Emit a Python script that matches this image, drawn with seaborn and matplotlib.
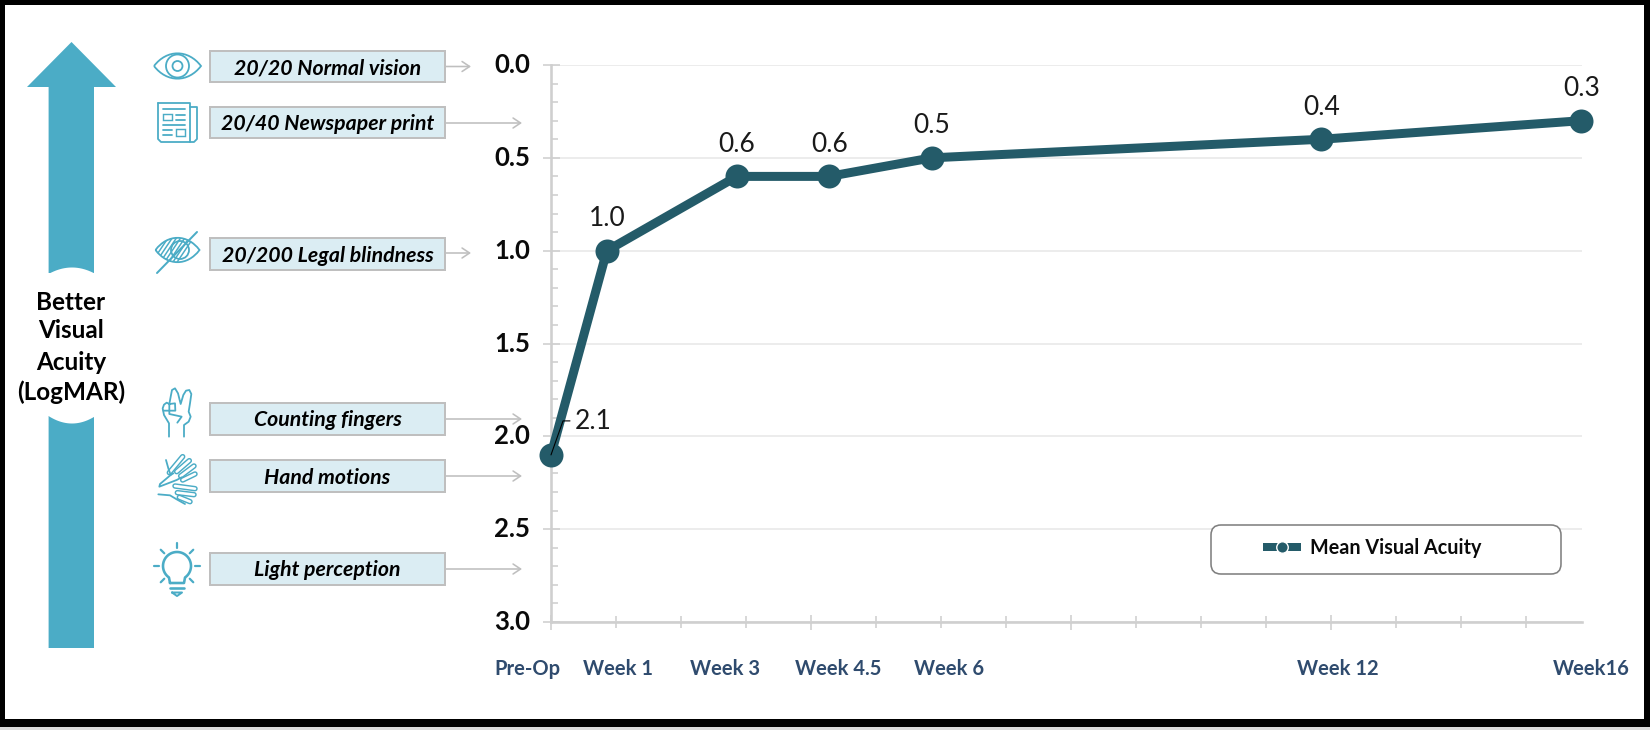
import numpy as np
import matplotlib
matplotlib.use("Agg")
import matplotlib.pyplot as plt
import pandas as pd
import seaborn as sns
from matplotlib.lines import Line2D
from matplotlib.patches import Rectangle, Circle, FancyBboxPatch, PathPatch, Polygon
from matplotlib.path import Path

# ---------- data ----------
week_position = [0, 0.86, 2.86, 4.28, 5.86, 11.85, 15.85]
logmar = [2.1, 1.0, 0.6, 0.6, 0.5, 0.4, 0.3]
value_labels = ["2.1", "1.0", "0.6", "0.6", "0.5", "0.4", "0.3"]
x_names = ["Pre-Op", "Week 1", "Week 3", "Week 4.5", "Week 6", "Week 12", "Week16"]
series_name = "Mean Visual Acuity"
y_major = [0.0, 0.5, 1.0, 1.5, 2.0, 2.5, 3.0]
vision_names = ["20/20 Normal vision", "20/40 Newspaper print", "20/200 Legal blindness",
                "Counting fingers", "Hand motions", "Light perception"]
side_title = ["Better", "Visual", "Acuity", "(LogMAR)"]

# ---------- style ----------
sns.set_theme(style="white")
plt.rcParams["font.family"] = ["Lato", "DejaVu Sans"]
W, H = 1650, 730
TEAL = "#245B69"
BLUE = "#4BACC6"
GREY = "#CFCFCF"
pt = 0.72  # points per pixel at 100 dpi

fig = plt.figure(figsize=(W / 100, H / 100), dpi=100, facecolor="black")

# full-figure canvas in pixel coordinates (y downward)
bg = fig.add_axes([0, 0, 1, 1], zorder=0)
bg.set_xlim(0, W)
bg.set_ylim(H, 0)
bg.axis("off")
bg.add_patch(Rectangle((5, 5), 1639, 714, fc="white", ec="none"))
bg.add_patch(Rectangle((0, 727), W, 3, fc="#DADADA", ec="none"))

# ---------- main chart ----------
L, R, T, B = 551, 1582, 65, 622
ax = fig.add_axes([L / W, 1 - B / H, (R - L) / W, (B - T) / H], zorder=1)
ax.patch.set_alpha(0)
df = pd.DataFrame({"week": week_position, "logmar": logmar})

ax.set_xlim(0, (R - L) / 65)
ax.set_ylim(3, 0)
ax.set_yticks(y_major)
ax.set_yticks(np.arange(0, 3.01, 0.1), minor=True)
ax.set_xticks(np.arange(0, 16, 4))
ax.set_xticks(np.arange(0, 16, 1), minor=True)
ax.set_xticklabels([])
ax.grid(axis="y", which="major", color="#E6E6E6", lw=1.5 * pt, zorder=0)
ax.set_axisbelow(True)
for s in ["top", "right"]:
    ax.spines[s].set_visible(False)
for s in ["left", "bottom"]:
    ax.spines[s].set_color(GREY)
    ax.spines[s].set_linewidth(2.6 * pt)
ax.tick_params(axis="y", which="major", direction="inout", length=17 * pt, width=1.6 * pt,
               color=GREY, pad=9, labelsize=18.5, labelcolor="#0A0A0A", left=True)
ax.tick_params(axis="y", which="minor", direction="in", length=6.5 * pt, width=1.6 * pt,
               color=GREY, left=True)
ax.tick_params(axis="x", which="major", direction="inout", length=15 * pt, width=1.6 * pt,
               color=GREY, bottom=True)
ax.tick_params(axis="x", which="minor", direction="inout", length=12 * pt, width=1.6 * pt,
               color=GREY, bottom=True)
ax.set_yticklabels([f"{v:.1f}" for v in y_major], fontweight="bold")
for lab in ax.get_yticklabels():
    lab.set_y(lab.get_position()[1])
    lab.set_verticalalignment("center")

sns.lineplot(data=df, x="week", y="logmar", ax=ax, color=TEAL, lw=9 * pt, marker="o",
             markersize=24 * pt, markeredgewidth=0, sort=False, legend=False,
             clip_on=False, zorder=3, solid_joinstyle="round")
ax.set_xlabel("")
ax.set_ylabel("")

# value labels
for i, (x, y, t) in enumerate(zip(week_position, logmar, value_labels)):
    if i == 0:
        ax.annotate(t, (x, y), xytext=(42 * pt, 33 * pt), textcoords="offset points",
                    ha="center", va="center", fontsize=19, color="#1A1A1A", zorder=5,
                    annotation_clip=False)
        ax.add_line(Line2D([x, x + 12 / 65, x + 19 / 65], [y, y - 34 / 185.67, y - 34 / 185.67],
                           color="black", lw=1.1 * pt, zorder=5, clip_on=False))
    else:
        ax.annotate(t, (x, y), xytext=(0, 32 * pt), textcoords="offset points",
                    ha="center", va="center", fontsize=19, color="#1A1A1A", zorder=5,
                    annotation_clip=False)

# x category labels
x_label_px = [527, 618, 725, 838, 949, 1338, 1591]
for px, t in zip(x_label_px, x_names):
    bg.text(px, 669, t, ha="center", va="center", fontsize=14.5, fontweight="bold", color="#2F4B6E")

# ---------- legend ----------
ax.add_patch(FancyBboxPatch((1217, 531), 338, 37, boxstyle="round,pad=6,rounding_size=10",
                            transform=bg.transData, fc="white", ec="#808080", lw=1.6 * pt,
                            clip_on=False, zorder=4))
handle = Line2D([], [], color=TEAL, lw=8 * pt, marker="o", markersize=11.5 * pt,
                markerfacecolor=TEAL, markeredgecolor="white", markeredgewidth=1.4 * pt,
                solid_capstyle="butt")
leg = ax.legend([handle], [series_name], loc="center left", frameon=False,
                bbox_to_anchor=(1263, 548), bbox_transform=bg.transData,
                borderaxespad=0, borderpad=0, handlelength=38 * pt / 14.2, handletextpad=0.45,
                prop={"size": 14.2, "weight": "bold"})
leg.set_zorder(6)
for t in leg.get_texts():
    t.set_color("#0A0A0A")

# ---------- big arrow ----------
bg.add_patch(Polygon([(71.5, 42), (116, 87), (94, 87), (94, 648), (48.6, 648), (48.6, 87), (27, 87)],
                     fc=BLUE, ec="none"))
bg.add_patch(Rectangle((48, 273), 47, 143, fc="white", ec="none"))
t_ = np.linspace(48, 95, 30)
bg.fill_between(t_, 273.5, 267 + 6.5 * ((t_ - 71.5) / 23.5) ** 2, color="white", lw=0, zorder=2)
bg.fill_between(t_, 415.5, 423 - 7.5 * ((t_ - 71.5) / 23.5) ** 2, color="white", lw=0, zorder=2)
for y, t in zip([303, 331, 362, 392], side_title):
    bg.text(71, y, t, ha="center", va="center", fontsize=17.5, fontweight="bold", color="black", zorder=3)

# ---------- vision boxes and arrows ----------
box_tops = [51, 107, 238, 403, 460, 553]
box_bottoms = [82, 138, 270, 435, 492, 585]
arrow_y = [66.5, 123, 253, 419, 476, 569]
arrow_end = [471, 522, 471, 522, 522, 522]
for top, bot, ay, ae, name in zip(box_tops, box_bottoms, arrow_y, arrow_end, vision_names):
    bg.add_patch(Rectangle((210, top), 235, bot - top, fc="#DBEDF3", ec="#BFBFBF", lw=2 * pt))
    bg.text(327.5, (top + bot) / 2 + 1.5, name, ha="center", va="center", fontsize=15.3,
            fontweight="bold", fontstyle="italic", color="black")
    bg.annotate("", xy=(ae, ay), xytext=(445, ay),
                arrowprops=dict(arrowstyle="->,head_length=0.45,head_width=0.3", color="#BFBFBF",
                                lw=1.6 * pt, shrinkA=0, shrinkB=0))

# ---------- icons ----------
ilw = 1.8 * pt


def line(xs, ys, lw=ilw, color=BLUE, z=3):
    bg.plot(xs, ys, color=color, lw=lw, solid_capstyle="round", solid_joinstyle="round", zorder=z)


def almond(cx, cy, hw, hh):
    c = 1.25
    return Path([(cx - hw, cy), (cx - hw * 0.45, cy - hh * c), (cx + hw * 0.45, cy - hh * c), (cx + hw, cy),
                 (cx + hw * 0.45, cy + hh * c), (cx - hw * 0.45, cy + hh * c), (cx - hw, cy)],
                [Path.MOVETO, Path.CURVE4, Path.CURVE4, Path.CURVE4, Path.CURVE4, Path.CURVE4, Path.CURVE4])


# eye
bg.add_patch(PathPatch(almond(177.5, 66, 23.5, 13.5), fc="none", ec=BLUE, lw=ilw, zorder=3))
bg.add_patch(Circle((177.5, 66), 11.5, fc="none", ec=BLUE, lw=ilw, zorder=3))
bg.add_patch(Circle((177.5, 66), 5, fc="none", ec=BLUE, lw=ilw, zorder=3))

# newspaper
line([158, 190, 190, 190], [103, 103, 142, 142])
line([190, 197, 197, 194, 161, 158, 158], [107, 107, 139, 142, 142, 139, 103])
line([163, 185], [109, 109])
bg.add_patch(Rectangle((163, 114), 9, 6, fc="none", ec=BLUE, lw=ilw * 0.8, zorder=3))
line([176, 185], [115, 115]); line([176, 185], [120, 120])
line([163, 185], [125, 125])
line([163, 172], [130, 130]); line([163, 172], [135, 135])
bg.add_patch(Rectangle((176, 129), 9, 7, fc="none", ec=BLUE, lw=ilw * 0.8, zorder=3))

# crossed eye
eye_path = almond(177.5, 250, 22, 13)
bg.add_patch(PathPatch(eye_path, fc="none", ec=BLUE, lw=ilw, zorder=3))
bg.add_patch(Circle((180, 250), 9, fc="none", ec=BLUE, lw=ilw, zorder=3))
for k in np.arange(0, 46, 4.2):
    if 150 + k > 178:
        continue
    hatch, = bg.plot([150 + k, 172 + k], [265, 232], color=BLUE, lw=1.5 * pt, zorder=4)
    hatch.set_clip_path(PathPatch(eye_path, transform=bg.transData))
line([157, 197], [273, 232], lw=2 * pt, z=5)

# peace hand
u = np.array([87, 87, 72, 68, 72, 80, 88, 93, 96, 105, 114, 122, 130, 138, 148, 154, 150, 146, 152, 146, 132, 132])
v = np.array([170, 130, 105, 85, 74, 68, 72, 45, 30, 25, 40, 72, 45, 32, 30, 42, 70, 95, 110, 125, 135, 170])
line(140 + u / 3, 380 + v / 3)
line(140 + np.array([88, 105, 106, 88, 88]) / 3, 380 + np.array([72, 70, 92, 92, 72]) / 3)
line(140 + np.array([70, 88, 88, 125, 112]) / 3, 380 + np.array([92, 92, 102, 110, 128]) / 3)

# hand motions: hollow fingers
fingers = [((88, 278), (128, 230)), ((110, 275), (148, 242)), ((122, 288), (162, 258)), ((128, 300), (165, 282)),
           ((105, 318), (165, 326)), ((112, 338), (162, 344)), ((118, 352), (150, 365))]
for (a, b), (c, d) in fingers:
    xs, ys = [140 + a / 3, 140 + c / 3], [380 + b / 3, 380 + d / 3]
    bg.plot(xs, ys, color=BLUE, lw=5.5 * pt, solid_capstyle="round", zorder=3)
    bg.plot(xs, ys, color="white", lw=2.6 * pt, solid_capstyle="round", zorder=3)
line(140 + np.array([78, 85, 92, 100]) / 3, 380 + np.array([240, 265, 285, 280]) / 3)
line(140 + np.array([92, 60, 58, 110, 125]) / 3, 380 + np.array([285, 312, 320, 300, 292]) / 3)
line(140 + np.array([55, 90, 110, 135]) / 3, 380 + np.array([343, 346, 358, 372]) / 3)

# light bulb
cx, cy, r = 177, 566, 14
ang = np.radians(np.linspace(235, -55, 60))
arc_x = cx + r * np.cos(ang)
arc_y = cy - r * np.sin(ang)
line(np.r_[cx - 7, arc_x, cx + 7, cx - 7], np.r_[583, arc_y, 583, 583], lw=2.6 * pt)
line([170, 184], [587.5, 587.5], lw=2.6 * pt)
line([172, 182, 177, 172], [592.5, 592.5, 596, 592.5], lw=2 * pt)
for a in [90, 45, 135, 0, 180, -45, 225]:
    ca, sa = np.cos(np.radians(a)), np.sin(np.radians(a))
    line([cx + 18 * ca, cx + 23 * ca], [cy - 18 * sa, cy - 23 * sa], lw=2.2 * pt)

fig.savefig("out.png", dpi=100, facecolor=fig.get_facecolor())
